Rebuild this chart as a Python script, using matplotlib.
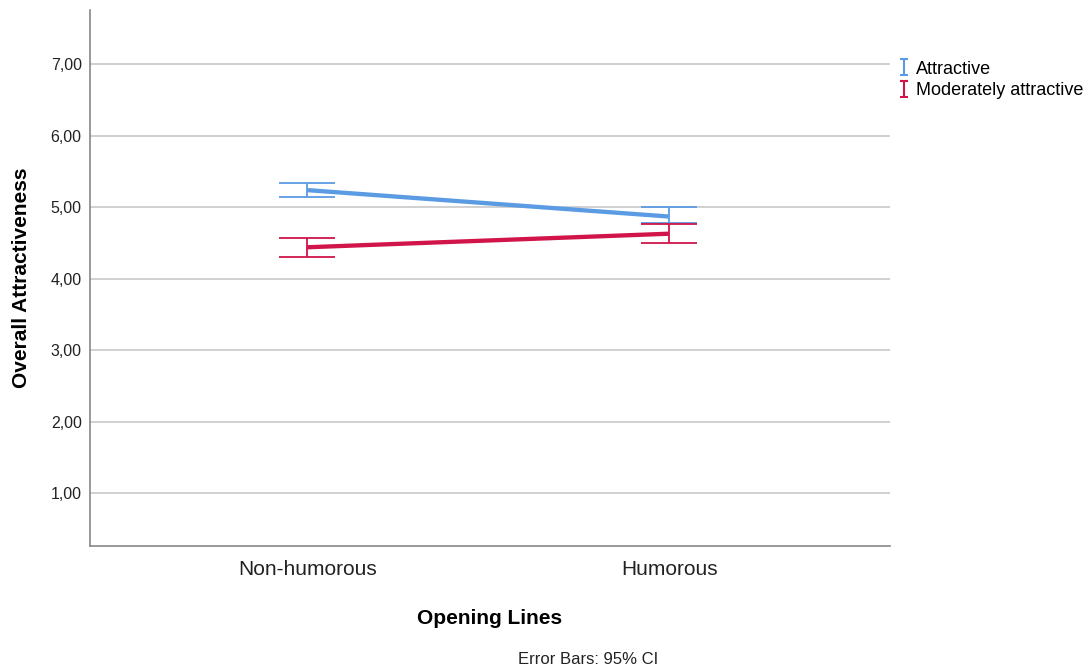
import numpy as np
import matplotlib.pyplot as plt
from matplotlib.lines import Line2D
from matplotlib.path import Path

plt.rcParams['font.family'] = ['Liberation Sans', 'DejaVu Sans']

# group means and 95% CI bounds
categories = ['Non-humorous', 'Humorous']
attractive_mean = [5.24, 4.87]
attractive_low = [5.14, 4.78]
attractive_high = [5.34, 5.01]
moderate_mean = [4.44, 4.63]
moderate_low = [4.31, 4.50]
moderate_high = [4.57, 4.77]
yticks = [1, 2, 3, 4, 5, 6, 7]

blue = '#5b9be3'
red = '#d1154a'

# "I" shaped marker used for the legend entries
i_marker = Path([(-0.55, 1), (0.55, 1), (0, 1), (0, -1), (-0.55, -1), (0.55, -1)],
                [Path.MOVETO, Path.LINETO, Path.MOVETO, Path.LINETO, Path.MOVETO, Path.LINETO])


def plot_group(ax, mean, low, high, color, label):
    x = np.arange(len(mean))
    mean = np.array(mean)
    err = [mean - np.array(low), np.array(high) - mean]
    ax.plot(x, mean, color=color, lw=3.1, zorder=3, label=label, solid_capstyle='butt')
    ax.errorbar(x, mean, yerr=err, fmt='none', ecolor=color, elinewidth=1.3,
                capsize=20, capthick=1.3, zorder=4)


def main():
    fig = plt.figure(figsize=(10.88, 6.69), dpi=100)
    ax = fig.add_axes([0.0827, 0.1839, 0.7353, 0.8011])

    plot_group(ax, attractive_mean, attractive_low, attractive_high, blue, 'Attractive')
    plot_group(ax, moderate_mean, moderate_low, moderate_high, red, 'Moderately attractive')

    ax.set_xlim(-0.6, 1.61)
    ax.set_ylim(0.26, 7.76)
    ax.set_yticks(yticks)
    ax.set_yticklabels([('%.2f' % v).replace('.', ',') for v in yticks],
                       fontsize=11.5, color='#222222')
    ax.set_xticks(range(len(categories)))
    ax.set_xticklabels(categories, fontsize=15, color='#222222')
    ax.tick_params(length=0, pad=6)
    ax.tick_params(axis='x', pad=10)

    ax.grid(axis='y', color='#c8c8c8', lw=1.2, zorder=0)
    for side in ['top', 'right']:
        ax.spines[side].set_visible(False)
    for side in ['left', 'bottom']:
        ax.spines[side].set_color('#888888')
        ax.spines[side].set_linewidth(1.2)

    ax.set_ylabel('Overall Attractiveness', fontsize=15, fontweight='bold', labelpad=14)
    ax.set_xlabel('Opening Lines', fontsize=15, fontweight='bold', labelpad=22)

    handles = [Line2D([], [], color=blue, marker=i_marker, lw=0, markersize=11,
                      markeredgewidth=1.5, fillstyle='none'),
               Line2D([], [], color=red, marker=i_marker, lw=0, markersize=11,
                      markeredgewidth=1.5, fillstyle='none')]
    fig.legend(handles, ['Attractive', 'Moderately attractive'], loc='upper left',
               bbox_to_anchor=(0.816, 0.92), frameon=False, fontsize=13,
               handletextpad=0.15, labelspacing=0.25, handlelength=1.0,
               borderaxespad=0)

    fig.text(0.5404, 0.003, 'Error Bars: 95% CI', fontsize=12, ha='center', va='bottom',
             color='#222222')

    fig.savefig('out.png', dpi=100)


if __name__ == '__main__':
    main()
